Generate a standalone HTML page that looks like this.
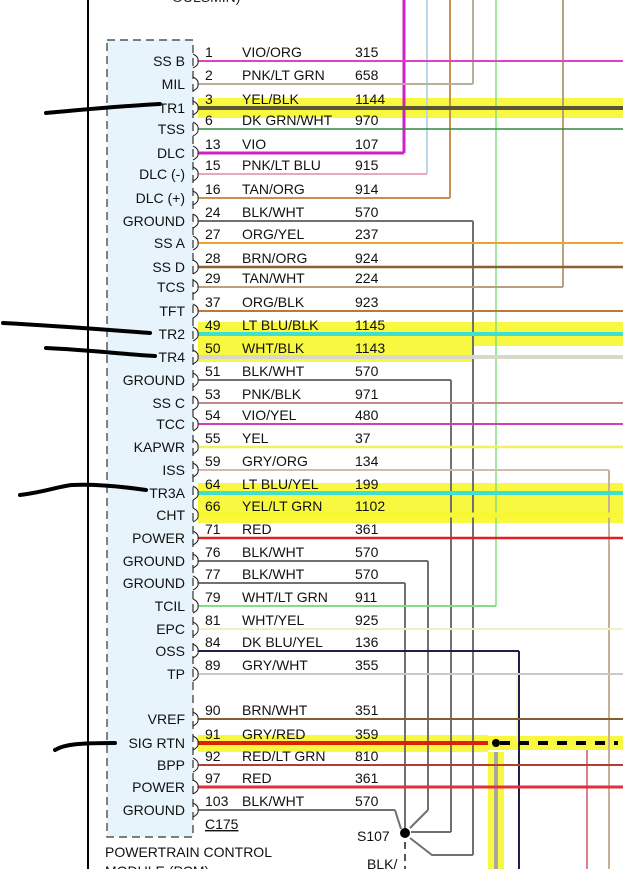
<!DOCTYPE html>
<html><head><meta charset="utf-8"><style>
html,body{margin:0;padding:0;background:#fff;}
svg{display:block;font-family:"Liberation Sans",sans-serif;}
</style></head><body>
<svg id="dg" width="623" height="869" viewBox="0 0 623 869" xmlns="http://www.w3.org/2000/svg">
<line x1="88" y1="0" x2="88" y2="869" stroke="#000" stroke-width="2"/>
<text x="172" y="2" font-size="14" fill="#222">OULSMIN)</text>
<rect x="107" y="40" width="86" height="797" fill="#e8f4fc" stroke="#333" stroke-dasharray="8,5" stroke-width="1.2"/>
<g id="hl"></g>
<g id="vert"></g>
<g id="wires"></g>
<g id="txt"></g>
<circle cx="405" cy="833" r="5" fill="#000"/>
<line x1="405" y1="842" x2="405" y2="869" stroke="#555" stroke-width="2" stroke-dasharray="7,5"/>
<text x="205" y="829" font-size="14" text-decoration="underline" fill="#111">C175</text>
<text x="357" y="841" font-size="14" fill="#111">S107</text>
<text x="367" y="869" font-size="14" fill="#111">BLK/</text>
<text x="105" y="857" font-size="14" fill="#111">POWERTRAIN CONTROL</text>
<text x="105" y="876" font-size="14" fill="#111">MODULE (PCM)</text>
<path d="M46,113 C80,110 120,106 160,104" stroke="#000" stroke-width="4" fill="none" stroke-linecap="round"/>
<path d="M3,323 C60,326 110,330 150,333" stroke="#000" stroke-width="4" fill="none" stroke-linecap="round"/>
<path d="M46,348 C90,350 120,354 155,356" stroke="#000" stroke-width="4" fill="none" stroke-linecap="round"/>
<path d="M20,495 C45,492 60,486 72,485 C95,484 125,487 146,490" stroke="#000" stroke-width="4" fill="none" stroke-linecap="round"/>
<path d="M55,750 C65,744 80,743 115,743" stroke="#000" stroke-width="4" fill="none" stroke-linecap="round"/>
</svg>
<script>
const labels=["SS B","MIL","TR1","TSS","DLC","DLC (-)","DLC (+)","GROUND","SS A","SS D","TCS","TFT","TR2","TR4","GROUND","SS C","TCC","KAPWR","ISS","TR3A","CHT","POWER","GROUND","GROUND","TCIL","EPC","OSS","TP","VREF","SIG RTN","BPP","POWER","GROUND"];
const pins=["1","2","3","6","13","15","16","24","27","28","29","37","49","50","51","53","54","55","59","64","66","71","76","77","79","81","84","89","90","91","92","97","103"];
const colorNames=["VIO/ORG","PNK/LT GRN","YEL/BLK","DK GRN/WHT","VIO","PNK/LT BLU","TAN/ORG","BLK/WHT","ORG/YEL","BRN/ORG","TAN/WHT","ORG/BLK","LT BLU/BLK","WHT/BLK","BLK/WHT","PNK/BLK","VIO/YEL","YEL","GRY/ORG","LT BLU/YEL","YEL/LT GRN","RED","BLK/WHT","BLK/WHT","WHT/LT GRN","WHT/YEL","DK BLU/YEL","GRY/WHT","BRN/WHT","GRY/RED","RED/LT GRN","RED","BLK/WHT"];
const circuits=["315","658","1144","970","107","915","914","570","237","924","224","923","1145","1143","570","971","480","37","134","199","1102","361","570","570","911","925","136","355","351","359","810","361","570"];
const wireY=[61,84,108,129,153,174,198,221,243,267,287,311,334,357,380,403,424,447,470,493,515,538,561,583,606,629,651,674,719,743,765,787,810];
const strokes=["#e040c8","#b8b098","#5a5535","#2e8b3e","#d020c8","#e8a8b8","#c89050","#707070","#f0a030","#8a6030","#b8a080","#c07838","#40e0d0","#d8d8c8","#707070","#c08888","#d040b8","#f0f060","#d8b8a8","#40e0d0","#f8f830","#e02020","#707070","#707070","#80e080","#f0f0c0","#202050","#c8c8c8","#806030","#e02000","#b04030","#e03040","#707070"];
const wireEnd=[623,473,623,623,404,427,450,473,623,623,563,623,623,623,451,623,623,623,609,623,623,623,428,405,496,623,519,623,623,488,623,623,395];
const widths=[2,2,4,1.5,3,2,2,2,2,2.5,2,2,4,4,2,2,2,2.5,2,4,5,2.5,2,2,2,2,2,2,2,4,2,3,2];
const hiY=[[98,118,623],[322,346,623],[346,362,473],[483,523,623],[735,752,488]];
const NS="http://www.w3.org/2000/svg";
function mk(tag,attrs,parent){const e=document.createElementNS(NS,tag);for(const k in attrs)e.setAttribute(k,attrs[k]);parent.appendChild(e);return e;}
const gH=document.getElementById('hl'),gV=document.getElementById('vert'),gW=document.getElementById('wires'),gT=document.getElementById('txt');
hiY.forEach(h=>{const r=mk('rect',{x:198,y:h[0],width:h[2]-198,height:h[1]-h[0],fill:'#f8f840'},gH);

});
[[488,736,135,14],[488,752,16,117]].forEach(a=>{const r=mk('rect',{x:a[0],y:a[1],width:a[2],height:a[3],fill:'#f8f840'},gH);

});
const verts=[[404,0,153,"#d020c8",3],[427,0,174,"#b8d8e8",2],[450,0,198,"#c89050",2],[473,0,84,"#b8b098",2],[473,221,855,"#707070",2],[496,0,606,"#80e080",1.5],[563,0,287,"#b8a080",2],[451,380,832,"#707070",2],[428,561,810,"#707070",2],[405,583,830,"#707070",2],[609,470,869,"#c8b098",2],[519,651,869,"#202050",2],[517,674,740,"#f0f0c0",1.5],[587,750,869,"#c03040",1.2],[496,752,869,"#a8a8a0",4]];
verts.forEach(v=>{const l=mk('line',{x1:v[0],y1:v[1],x2:v[0],y2:v[2],stroke:v[3],'stroke-width':v[4]},gV);

});
[["M473,855 L432,855 L410,838","#707070"],["M451,832 L411,832","#707070"],["M428,810 L410,828","#707070"],["M395,810 L401,829","#707070"]].forEach(p=>{const e=mk('path',{d:p[0],stroke:p[1],'stroke-width':2,fill:'none'},gV);

});
const dash=mk('line',{x1:500,y1:743,x2:618,y2:743,stroke:'#000','stroke-width':4,'stroke-dasharray':'10,9'},gV);


const ar=mk('circle',{cx:496,cy:743,r:4,fill:'#000'},gV);


labels.forEach((lab,i)=>{const y=wireY[i];
const w=mk('line',{x1:198,y1:y,x2:wireEnd[i],y2:y,stroke:strokes[i],'stroke-width':widths[i]},gW);


const b=mk('path',{d:`M193,${y-7} Q199,${y-4} 198,${y} Q199,${y+4} 193,${y+7}`,stroke:'#222','stroke-width':1,fill:'none'},gT);


const t=mk('text',{x:185,y:y+5,'font-size':14,'text-anchor':'end',fill:'#111'},gT);t.textContent=lab;


const p=mk('text',{x:205,y:y-4,'font-size':14,fill:'#111'},gT);p.textContent=pins[i];


const c=mk('text',{x:242,y:y-4,'font-size':14,fill:'#111'},gT);c.textContent=colorNames[i];


const k=mk('text',{x:355,y:y-4,'font-size':14,fill:'#111'},gT);k.textContent=circuits[i];

});
</script>
</body></html>
